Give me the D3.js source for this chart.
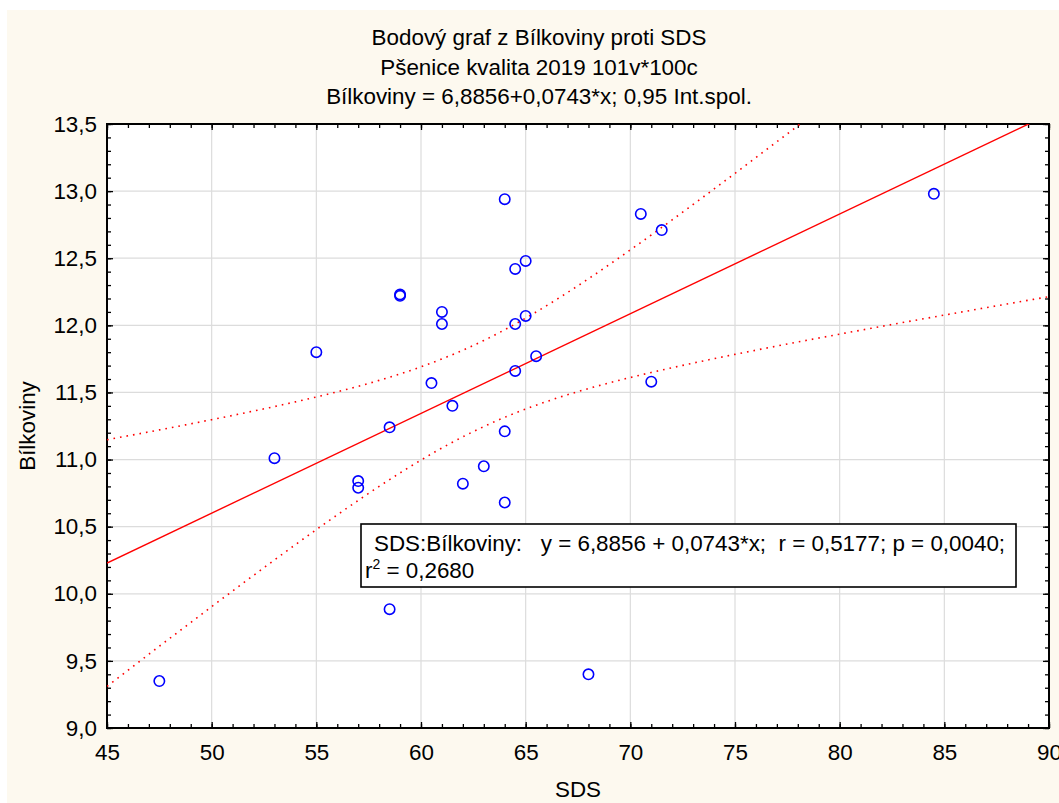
<!DOCTYPE html>
<html><head><meta charset="utf-8">
<script src="https://cdn.jsdelivr.net/npm/d3@7"></script>
<style>body{margin:0;background:#fff}svg{display:block}</style></head>
<body>
<svg id="c" width="1059" height="803"></svg>
<script>
// ---- data ----
const sdsValues = [47.5, 53.0, 55.0, 57.0, 57.0, 58.5, 58.5, 59.0, 59.0, 60.5, 61.0, 61.0, 61.5, 62.0, 63.0, 64.0, 64.0, 64.0, 64.5, 64.5, 64.5, 65.0, 65.0, 65.5, 68.0, 70.5, 71.0, 71.5, 84.5];
const bilkovinyValues = [9.35, 11.01, 11.80, 10.84, 10.79, 11.24, 9.885, 12.23, 12.22, 11.57, 12.10, 12.01, 11.40, 10.82, 10.95, 12.94, 11.21, 10.68, 12.42, 12.01, 11.66, 12.48, 12.07, 11.77, 9.40, 12.83, 11.58, 12.71, 12.98];
const xTicks = [45, 50, 55, 60, 65, 70, 75, 80, 85, 90];
const yTicks = [9.0, 9.5, 10.0, 10.5, 11.0, 11.5, 12.0, 12.5, 13.0, 13.5];
const titleLines = ["Bodový graf z Bílkoviny proti SDS", "Pšenice kvalita 2019 101v*100c", "Bílkoviny = 6,8856+0,0743*x; 0,95 Int.spol."];
const regIntercept = 6.8856, regSlope = 0.0743;
const tCrit = 2.0518; // t(0.975, n-2 = 27)
const legendLine1 = "SDS:Bílkoviny:   y = 6,8856 + 0,0743*x;  r = 0,5177; p = 0,0040;";
const legendR2 = "0,2680";

// ---- layout ----
const svg = d3.select("#c");
const font = "'Liberation Sans', Arial, sans-serif";
const FS = 22.4;
const L = 107, R = 1049, T = 124, B = 728;
svg.append("rect").attr("x", 7).attr("y", 10).attr("width", 1052).attr("height", 793).attr("fill", "#fdf9ef");

const x = d3.scaleLinear().domain([45, 90]).range([L, R]);
const y = d3.scaleLinear().domain([9, 13.5]).range([B, T]);
const comma = v => d3.format(".1f")(v).replace(".", ",");

svg.append("rect").attr("x", L).attr("y", T).attr("width", R - L).attr("height", B - T).attr("fill", "#fff");

// grid
const grid = svg.append("g").attr("stroke", "#dcdcdc").attr("stroke-width", 1.2);
xTicks.slice(1, -1).forEach(t => grid.append("line").attr("x1", x(t)).attr("x2", x(t)).attr("y1", T).attr("y2", B));
yTicks.slice(1, -1).forEach(t => grid.append("line").attr("x1", L).attr("x2", R).attr("y1", y(t)).attr("y2", y(t)));

// axes with inward ticks
const minorX = d3.range(45, 90.001, 1);
const minorY = d3.range(9, 13.5001, 0.1);
function axisG(axis, tx, ty) {
  const g = svg.append("g").attr("transform", `translate(${tx},${ty})`).call(axis);
  g.select(".domain").remove();
  g.selectAll("line").attr("stroke", "#000").attr("stroke-width", 1.3);
  return g;
}
axisG(d3.axisBottom(x).tickValues(minorX).tickSize(-4).tickFormat(""), 0, B);
axisG(d3.axisTop(x).tickValues(minorX).tickSize(-4).tickFormat(""), 0, T);
axisG(d3.axisLeft(y).tickValues(minorY).tickSize(-4).tickFormat(""), L, 0);
axisG(d3.axisRight(y).tickValues(minorY).tickSize(-4).tickFormat(""), R, 0);
const xa = axisG(d3.axisBottom(x).tickValues(xTicks).tickSize(-6).tickFormat(d3.format("d")), 0, B);
xa.selectAll("text").attr("font-family", font).attr("font-size", FS).attr("fill", "#000").attr("dy", 0).attr("y", 32);
const ya = axisG(d3.axisLeft(y).tickValues(yTicks).tickSize(-6).tickFormat(comma), L, 0);
ya.selectAll("text").attr("font-family", font).attr("font-size", FS).attr("fill", "#000").attr("x", -10);
axisG(d3.axisTop(x).tickValues(xTicks).tickSize(-6).tickFormat(""), 0, T);
axisG(d3.axisRight(y).tickValues(yTicks).tickSize(-6).tickFormat(""), R, 0);

svg.append("rect").attr("x", L).attr("y", T).attr("width", R - L).attr("height", B - T)
  .attr("fill", "none").attr("stroke", "#000").attr("stroke-width", 2);

// regression and confidence bands
svg.append("clipPath").attr("id", "clip").append("rect").attr("x", L).attr("y", T).attr("width", R - L).attr("height", B - T);
const n = sdsValues.length;
const xbar = d3.mean(sdsValues), ybar = d3.mean(bilkovinyValues);
const Sxx = d3.sum(sdsValues, v => (v - xbar) ** 2);
const Sxy = d3.sum(sdsValues, (v, i) => (v - xbar) * (bilkovinyValues[i] - ybar));
const b1 = Sxy / Sxx, b0 = ybar - b1 * xbar;
const sse = d3.sum(sdsValues, (v, i) => (bilkovinyValues[i] - (b0 + b1 * v)) ** 2);
const s = Math.sqrt(sse / (n - 2));
const xs = d3.range(45, 90.001, 0.25);
const hw = v => tCrit * s * Math.sqrt(1 / n + (v - xbar) ** 2 / Sxx);
const fit = v => regIntercept + regSlope * v;
const line = d3.line().x(d => x(d[0])).y(d => y(d[1]));
const cg = svg.append("g").attr("clip-path", "url(#clip)").attr("fill", "none").attr("stroke", "#ff0000");
cg.append("path").attr("d", line([[45, fit(45)], [90, fit(90)]])).attr("stroke-width", 1.4);
cg.append("path").attr("d", line(xs.map(v => [v, fit(v) + hw(v)]))).attr("stroke-width", 1.6).attr("stroke-dasharray", "1.6,5");
cg.append("path").attr("d", line(xs.map(v => [v, fit(v) - hw(v)]))).attr("stroke-width", 1.6).attr("stroke-dasharray", "1.6,5");

// points
svg.append("g").selectAll("circle").data(sdsValues).join("circle")
  .attr("cx", d => x(d)).attr("cy", (d, i) => y(bilkovinyValues[i])).attr("r", 5.2)
  .attr("fill", "none").attr("stroke", "#0000ff").attr("stroke-width", 1.6);

// legend box
const lg = svg.append("g");
lg.append("rect").attr("x", 361).attr("y", 524).attr("width", 655).attr("height", 63).attr("fill", "#fff").attr("stroke", "#000").attr("stroke-width", 1.6);
lg.append("text").attr("x", 374).attr("y", 551).attr("font-family", font).attr("font-size", FS).style("white-space", "pre").text(legendLine1);
const t2 = lg.append("text").attr("x", 365).attr("y", 578).attr("font-family", font).attr("font-size", FS).style("white-space", "pre");
t2.append("tspan").text("r");
t2.append("tspan").attr("font-size", 14).attr("dy", -9).text("2");
t2.append("tspan").attr("dy", 9).text(" = " + legendR2);

// titles
titleLines.forEach((t, i) => svg.append("text").attr("x", 539).attr("y", 45 + i * 29.5).attr("text-anchor", "middle")
  .attr("font-family", font).attr("font-size", FS).text(t));
svg.append("text").attr("x", 578).attr("y", 797).attr("text-anchor", "middle").attr("font-family", font).attr("font-size", FS).text("SDS");
svg.append("text").attr("transform", "translate(35,426) rotate(-90)").attr("text-anchor", "middle").attr("font-family", font).attr("font-size", FS).text("Bílkoviny");
</script>
</body></html>
